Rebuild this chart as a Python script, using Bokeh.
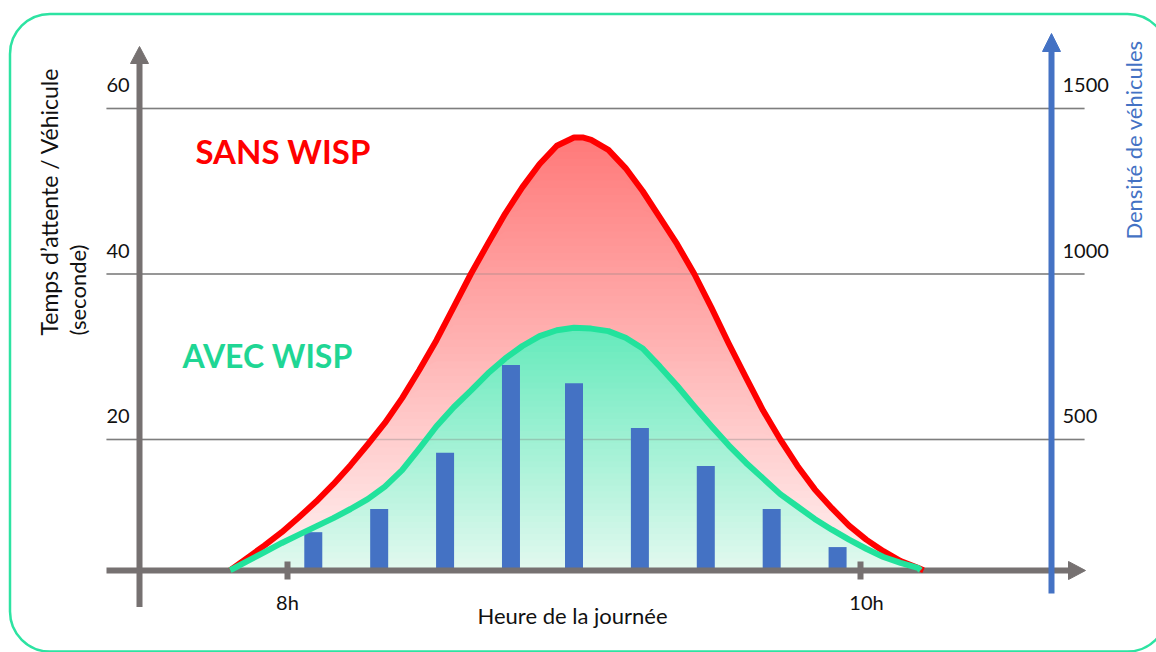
import numpy as np
from bokeh.plotting import figure
from bokeh.models import Range1d, BoxAnnotation
from bokeh.core.properties import value
from bokeh.embed import file_html
from bokeh.resources import INLINE

# ---------------- data ----------------
# waiting time per vehicle (s) versus hour of the day
hours_sans = [7.80, 7.86, 7.92, 7.98, 8.04, 8.10, 8.16, 8.22, 8.28, 8.34, 8.40, 8.46,
              8.52, 8.58, 8.64, 8.70, 8.76, 8.82, 8.88, 8.94, 9.00, 9.03, 9.06, 9.12,
              9.18, 9.24, 9.30, 9.36, 9.42, 9.48, 9.54, 9.60, 9.66, 9.72, 9.78, 9.84,
              9.90, 9.96, 10.02, 10.08, 10.14, 10.20, 10.22]
wait_sans = [4.2, 5.7, 7.2, 8.8, 10.6, 12.5, 14.6, 16.9, 19.4, 22.0, 25.0, 28.4,
             32.0, 36.0, 40.0, 43.7, 47.3, 50.5, 53.3, 55.5, 56.5, 56.5, 56.2, 55.0,
             52.8, 50.0, 46.8, 43.6, 40.0, 35.9, 31.6, 27.5, 23.5, 20.0, 16.8, 14.0,
             11.7, 9.6, 7.9, 6.5, 5.3, 4.5, 4.2]
hours_avec = [7.80, 7.86, 7.92, 7.98, 8.04, 8.10, 8.16, 8.22, 8.28, 8.34, 8.40, 8.46,
              8.52, 8.58, 8.64, 8.70, 8.76, 8.82, 8.88, 8.94, 9.00, 9.06, 9.12, 9.18,
              9.24, 9.30, 9.36, 9.42, 9.48, 9.54, 9.60, 9.66, 9.72, 9.78, 9.84, 9.90,
              9.96, 10.02, 10.08, 10.14, 10.20, 10.21]
wait_avec = [4.2, 5.3, 6.4, 7.5, 8.5, 9.5, 10.5, 11.6, 12.8, 14.3, 16.3, 18.9,
             21.6, 23.9, 25.9, 28.0, 29.8, 31.3, 32.5, 33.2, 33.5, 33.4, 33.1, 32.3,
             31.0, 28.8, 26.5, 24.0, 21.6, 19.3, 17.2, 15.3, 13.4, 11.9, 10.4, 9.1,
             7.9, 6.8, 5.8, 5.1, 4.5, 4.2]
# vehicle density bars
bar_hours = [8.09, 8.32, 8.55, 8.78, 9.00, 9.23, 9.46, 9.69, 9.92]
bar_density = [220, 290, 460, 725, 670, 535, 420, 290, 175]
# axes
left_ticks = [20, 40, 60]
right_ticks = [500, 1000, 1500]
x_ticks = [8, 10]
x_tick_labels = ["8h", "10h"]
baseline_wait = 4.17          # level (s) at which the time axis is drawn
density_per_second = 25.0     # right axis scale factor

# ---------------- geometry ----------------
W, H = 1156, 652
X0, X1 = 6.99825, 11.03316
Y0, Y1 = -5.7402, 73.0514
DX = (X1 - X0) / W   # data units per pixel (x)
DY = (Y1 - Y0) / H   # data units per pixel (y)
ASC = 0.37           # baseline correction, fraction of font size


def hx(px):
    return X0 + px * DX


def vy(py):
    return Y1 - py * DY


p = figure(width=W, height=H, x_range=Range1d(X0, X1), y_range=Range1d(Y0, Y1),
           toolbar_location=None, output_backend="svg", min_border=0,
           x_axis_location=None, y_axis_location=None, title=None,
           outline_line_color=None, background_fill_color="white",
           border_fill_color="white")
p.grid.visible = False
p.extra_y_ranges = {"density": Range1d(Y0 * density_per_second, Y1 * density_per_second)}

FONT = value("Lato")
GREY = "#767171"
BLUE = "#4472C4"
RED = "#FF0000"
GREEN = "#22E29C"
GREEN_TXT = "#1FD694"

# rounded frame
frame = BoxAnnotation(left=hx(9.5), right=hx(1167), top=vy(13.5), bottom=vy(651),
                      fill_color=None, fill_alpha=0, line_color="#2DE3A2",
                      line_alpha=1.0, line_width=2.5, border_radius=40,
                      level="underlay")
p.add_layout(frame)

# horizontal grid lines (under the fills)
g_x0, g_x1 = hx(106), hx(1084)
p.segment(x0=[g_x0] * 3, x1=[g_x1] * 3, y0=left_ticks, y1=left_ticks,
          line_color="#7F7F7F", line_width=1.5)


def gradient_fill(hours, wait, top_rgb, bot_rgb, n):
    w = np.array(wait, dtype=float)
    lo, hi = baseline_wait, w.max()
    levels = np.linspace(lo, hi, n + 1)[1:]
    for lev in levels[::-1]:
        t = (lev - lo) / (hi - lo)
        c = tuple(int(round(bot_rgb[k] + (top_rgb[k] - bot_rgb[k]) * t)) for k in range(3))
        p.varea(x=hours, y1=[baseline_wait] * len(hours), y2=list(np.minimum(w, lev)),
                fill_color="#%02x%02x%02x" % c, fill_alpha=1.0)


gradient_fill(hours_sans, wait_sans, (255, 122, 122), (255, 243, 243), 60)
gradient_fill(hours_avec, wait_avec, (102, 234, 188), (228, 249, 240), 40)

# grid lines again, faint, over the fills
p.segment(x0=[g_x0] * 3, x1=[g_x1] * 3, y0=left_ticks, y1=left_ticks,
          line_color="#7F7F7F", line_width=1.5, line_alpha=0.35)

# density bars
p.vbar(x=bar_hours, width=18 * DX, top=bar_density,
       bottom=baseline_wait * density_per_second, y_range_name="density",
       fill_color=BLUE, line_color=None)

# axes drawn as arrows
# left axis
p.segment(x0=[hx(139)], x1=[hx(139)], y0=[vy(606.5)], y1=[vy(62)],
          line_color=GREY, line_width=6)
p.patch(x=[hx(130), hx(148), hx(139)], y=[vy(63), vy(63), vy(46)],
        fill_color=GREY, line_color=GREY, line_width=1)
# time axis
p.segment(x0=[hx(106)], x1=[hx(1069)], y0=[baseline_wait], y1=[baseline_wait],
          line_color=GREY, line_width=6)
p.patch(x=[hx(1068), hx(1068), hx(1085)], y=[vy(561), vy(579), vy(570)],
        fill_color=GREY, line_color=GREY, line_width=1)
p.segment(x0=x_ticks, x1=x_ticks, y0=[vy(561)] * 2, y1=[vy(579)] * 2,
          line_color=GREY, line_width=6)
# right axis
p.segment(x0=[hx(1051)], x1=[hx(1051)], y0=[vy(593)], y1=[vy(50)],
          line_color=BLUE, line_width=6)
p.patch(x=[hx(1042), hx(1060), hx(1051)], y=[vy(51), vy(51), vy(33)],
        fill_color=BLUE, line_color=BLUE, line_width=1)

# curves
p.line(hours_sans, wait_sans, line_color=RED, line_width=6, line_join="round")
p.line(hours_avec, wait_avec, line_color=GREEN, line_width=6, line_join="round")

# tick labels (baseline 16 px above each grid line)
lab_up = (16 + ASC * 20) * DY
p.text(x=[hx(106)] * 3, y=[t + lab_up for t in left_ticks], text=[str(t) for t in left_ticks],
       text_font=FONT, text_font_size=value("20px"), text_color="#111111",
       text_align="left", text_baseline="alphabetic")
p.text(x=[hx(1062)] * 3, y=[t + lab_up * density_per_second for t in right_ticks],
       text=[str(t) for t in right_ticks], y_range_name="density",
       text_font=FONT, text_font_size=value("20px"), text_color="#111111",
       text_align="left", text_baseline="alphabetic")
p.text(x=x_ticks, y=[vy(609 - ASC * 20)] * 2, text=x_tick_labels, x_offset=[0, 6],
       text_font=FONT, text_font_size=value("20px"), text_color="#111111",
       text_align="center", text_baseline="alphabetic")

# axis titles
p.text(x=[hx(572)], y=[vy(623 - ASC * 22)], text=["Heure de la journée"],
       text_font=FONT, text_font_size=value("22px"), text_color="#111111",
       text_align="center", text_baseline="alphabetic")
p.text(x=[hx(57 - ASC * 23)], y=[vy(335)],
       text=["Temps d\u2019attente / Véhicule"], angle=np.pi / 2,
       text_font=FONT, text_font_size=value("23px"), text_color="#111111",
       text_align="left", text_baseline="alphabetic")
p.text(x=[hx(85 - ASC * 22)], y=[vy(335)],
       text=["(seconde)"], angle=np.pi / 2,
       text_font=FONT, text_font_size=value("22px"), text_color="#111111",
       text_align="left", text_baseline="alphabetic")
p.text(x=[hx(1141 - ASC * 22)], y=[vy(139.5)], text=["Densité de véhicules"], angle=np.pi / 2,
       text_font=FONT, text_font_size=value("22px"), text_color=BLUE,
       text_align="center", text_baseline="alphabetic")

# series labels
p.text(x=[hx(195)], y=[vy(163 - ASC * 33)], text=["SANS WISP"], text_font=FONT,
       text_font_size=value("33px"), text_font_style="bold", text_color=RED,
       text_align="left", text_baseline="alphabetic")
p.text(x=[hx(182)], y=[vy(367 - ASC * 32)], text=["AVEC WISP"], text_font=FONT,
       text_font_size=value("32px"), text_font_style="bold", text_color=GREEN_TXT,
       text_align="left", text_baseline="alphabetic")

open("out.html", "w").write(file_html(p, INLINE))
